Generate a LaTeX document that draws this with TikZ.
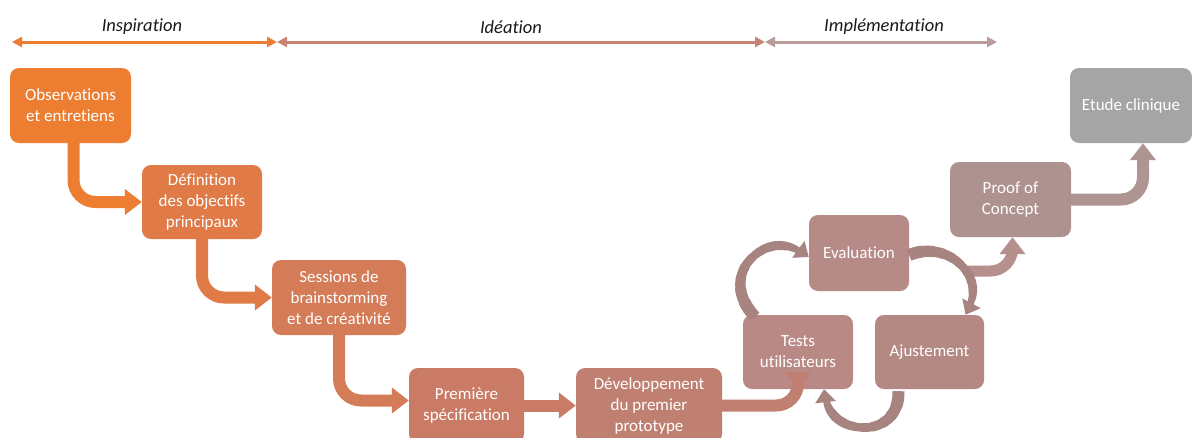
\documentclass[tikz,border=0pt]{standalone}
\usepackage{fontspec}
\setmainfont[Ligatures=NoCommon]{Carlito}
\usetikzlibrary{arrows.meta}
\definecolor{cA}{HTML}{ED7D31}
\definecolor{cB}{HTML}{E07B47}
\definecolor{cC}{HTML}{D47B57}
\definecolor{cD}{HTML}{C97B65}
\definecolor{cE}{HTML}{C08071}
\definecolor{cF}{HTML}{B98A85}
\definecolor{cG}{HTML}{B68A86}
\definecolor{cH}{HTML}{B48883}
\definecolor{cI}{HTML}{AE9290}
\definecolor{cJ}{HTML}{A5A5A5}
\definecolor{cyc}{HTML}{A7847F}
\definecolor{lineB}{HTML}{C98374}
\definecolor{lineC}{HTML}{B89C99}
\definecolor{arrP}{HTML}{B5908C}
\definecolor{arrQ}{HTML}{AE9592}
\definecolor{hdr}{HTML}{1A1A1A}
\tikzset{
  box/.style={rounded corners=9pt, inner sep=0pt, align=center, text=white,
    font=\fontsize{17}{21}\selectfont},
  hdrtext/.style={text=hdr, font=\fontsize{18.5}{22}\selectfont\itshape},
  flow/.style={line width=12pt, rounded corners=22pt,
    -{Triangle[length=17pt,width=25pt]}},
  cycarrow/.style={line width=4.5pt, draw=cyc,
    -{Triangle[length=13pt,width=20pt]}},
  topline/.style={line width=3pt,
    {Triangle[length=10pt,width=10pt]}-{Triangle[length=10pt,width=10pt]}}
}
% tapered overlay for a cycle arrow: start, control 1, control 2, end
\newcommand\mytaper[4]{%
  \foreach \k in {0,...,8}{%
    \pgfmathsetmacro\ta{\k/10}%
    \pgfmathsetmacro\tb{(\k+1.2)/10}%
    \pgfmathsetmacro\w{12-0.8*\k}%
    \pgfsetlinewidth{\w pt}%
    \ifnum\k=0 \pgfsetbuttcap\else\pgfsetroundcap\fi
    \pgfsetstrokecolor{cyc}%
    \pgfpathcurvebetweentime{\ta}{\tb}{\pgfpointanchor{#1}{center}}{\pgfpointanchor{#2}{center}}{\pgfpointanchor{#3}{center}}{\pgfpointanchor{#4}{center}}%
    \pgfusepath{stroke}%
  }}
\begin{document}
\begin{tikzpicture}[x=1pt,y=1pt]
\fill[white] (0,0) rectangle (1192,-437);
\useasboundingbox (0,0) rectangle (1192,-437);
\clip (0,0) rectangle (1192,-437);

% phase headers
\coordinate (t0) at (12,-42);
\coordinate (t1) at (277,-42);
\coordinate (t2) at (765,-42);
\coordinate (t3) at (997,-42);
\node[hdrtext] (hI) at (142,-27) {Inspiration};
\node[hdrtext] (hD) at (511,-27) {Idéation};
\node[hdrtext] (hM) at (884,-27) {Implémentation};
\draw[topline, draw=cA] (t0) -- (t1);
\draw[topline, draw=lineB] (t1) -- (t2);
\draw[topline, draw=lineC] (t2) -- (t3);

% boxes
\node[box, fill=cA, minimum width=121pt, minimum height=75pt] (obs) at (70.5,-105.5) {Observations\\et entretiens};
\node[box, fill=cB, minimum width=120pt, minimum height=74pt] (def) at (202,-202) {Définition\\des objectifs\\principaux};
\node[box, fill=cC, minimum width=134pt, minimum height=75pt] (sess) at (339,-297.5) {Sessions de\\brainstorming\\et de créativité};
\node[box, fill=cD, minimum width=115pt, minimum height=75pt] (prem) at (466.5,-405.5) {Première\\spécification};
\node[box, fill=cE, minimum width=146pt, minimum height=75pt] (dev) at (649,-405.5) {Développement\\du premier\\prototype};
\node[box, fill=cF, minimum width=110pt, minimum height=74pt] (tests) at (798,-352) {Tests\\utilisateurs};
\node[box, fill=cG, minimum width=100pt, minimum height=76pt] (eval) at (859,-253) {Evaluation};
\node[box, fill=cH, minimum width=109pt, minimum height=74pt] (ajust) at (929.5,-352) {Ajustement};
\node[box, fill=cI, minimum width=121pt, minimum height=75pt] (poc) at (1010.5,-199.5) {Proof of\\Concept};
\node[box, fill=cJ, minimum width=122pt, minimum height=75pt] (etude) at (1131,-105.5) {Etude clinique};

% flow arrows
\draw[flow, draw=cA] ([xshift=3pt]obs.south) |- (def.west);
\draw[flow, draw=cB] (def.south) |- (sess.west);
\draw[flow, draw=cC] (sess.south) |- ([yshift=5pt]prem.west);
\draw[flow, draw=cD] (prem.east) -- (dev.west);
\draw[flow, draw=cE] (dev.east) -| (tests.south);
\coordinate (pocin) at (968,-271);
\draw[flow, line width=11pt, draw=arrP] (pocin) -| ([xshift=2pt]poc.south);
\draw[flow, draw=arrQ] (poc.east) -| ([xshift=12pt]etude.south);

% cycle arrows
\coordinate (a1s) at ([xshift=-43pt,yshift=-2pt]tests.north);
\coordinate (a1p) at (715,-275);
\coordinate (a1q) at (765,-225);
\coordinate (a1e) at ([yshift=-4pt]eval.west);
\coordinate (a2s) at ([yshift=-2pt]eval.east);
\coordinate (a2p) at (945,-240);
\coordinate (a2q) at (988,-272);
\coordinate (a2e) at ([xshift=36pt]ajust.north);
\coordinate (a3s) at ([xshift=-31pt,yshift=-2pt]ajust.south);
\coordinate (a3p) at (900,-440);
\coordinate (a3q) at (830,-440);
\coordinate (a3e) at ([xshift=26pt]tests.south);
\draw[cycarrow] (a1s) .. controls (a1p) and (a1q) .. (a1e);
\draw[cycarrow] (a2s) .. controls (a2p) and (a2q) .. (a2e);
\draw[cycarrow] (a3s) .. controls (a3p) and (a3q) .. (a3e);
\mytaper{a1s}{a1p}{a1q}{a1e}
\mytaper{a2s}{a2p}{a2q}{a2e}
\mytaper{a3s}{a3p}{a3q}{a3e}
\end{tikzpicture}
\end{document}
